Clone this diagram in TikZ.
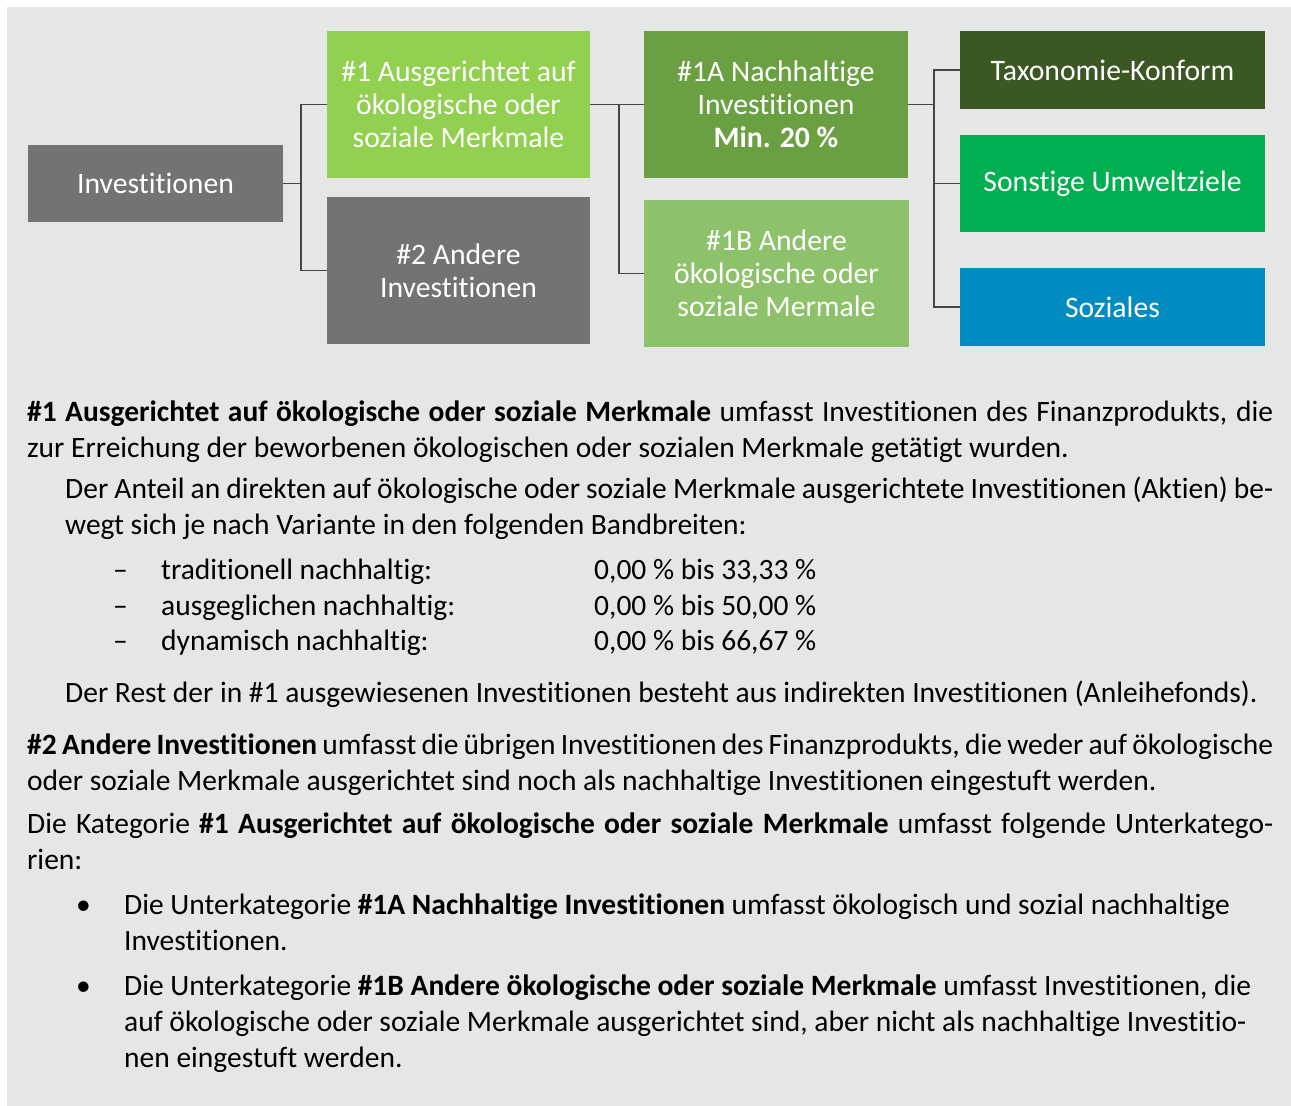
\documentclass[tikz,border=0pt]{standalone}
\usepackage{fontspec}
\setmainfont{Carlito}[Ligatures=CommonOff]

\definecolor{bggray}{HTML}{E7E6E6}
\definecolor{boxgray}{HTML}{737373}
\definecolor{lightgreen}{HTML}{92D050}
\definecolor{midgreen}{HTML}{6A9F42}
\definecolor{palegreen}{HTML}{8DC26B}
\definecolor{darkgreen}{HTML}{3A5724}
\definecolor{brightgreen}{HTML}{00AF50}
\definecolor{sozblue}{HTML}{008CC1}
\definecolor{linegray}{HTML}{454545}

\tikzset{
  kasten/.style={fill=#1, text=white, align=center, inner sep=0pt,
    font=\fontsize{29.7}{33}\selectfont},
  linie/.style={draw=linegray, line width=1.3pt},
  absatz/.style={anchor=base west, inner sep=0pt, align=justify,
    font=\fontsize{29.5}{36}\selectfont},
  zeile/.style={anchor=base west, inner sep=0pt,
    font=\fontsize{29.5}{36}\selectfont},
}

\begin{document}
\begin{tikzpicture}[x=1pt,y=-1pt]
    \useasboundingbox (0,0) rectangle (1291,1106);
    \fill[white] (0,0) rectangle (1291,1106);
    \fill[bggray] (7,7) rectangle (1291,1106);
    %
    \node[kasten=boxgray, minimum width=255pt, minimum height=77pt] (Inv) at (155.5,183.5) {Investitionen};
    \node[kasten=lightgreen, minimum width=263pt, minimum height=147pt] (Ausg) at (458.5,104.5) {\#1 Ausgerichtet auf\\ökologische oder\\soziale Merkmale};
    \node[kasten=boxgray, minimum width=263pt, minimum height=147pt] (Andere) at (458.5,270.5) {\#2 Andere\\Investitionen};
    \node[kasten=midgreen, minimum width=264pt, minimum height=147pt] (Nachh) at (776,104.5) {\#1A Nachhaltige\\Investitionen\\\textbf{Min. 20~\%}};
    \node[kasten=palegreen, minimum width=265pt, minimum height=147pt] (AndMerk) at (776.5,273.5) {\#1B Andere\\ökologische oder\\soziale Mermale};
    \node[kasten=darkgreen, minimum width=305pt, minimum height=78pt] (Tax) at (1112.5,70) {Taxonomie-Konform};
    \node[kasten=brightgreen, minimum width=305pt, minimum height=97pt] (Sonst) at (1112.5,183.5) {Sonstige Umweltziele};
    \node[kasten=sozblue, minimum width=305pt, minimum height=78pt] (Soz) at (1112.5,307) {Soziales};
    %
    \coordinate (gabelA) at (301,183.5);
    \coordinate (gabelB) at (619,104.5);
    \coordinate (gabelC) at (934,104.5);
    %
    \draw[linie] (Inv.east) -- (gabelA);
    \draw[linie] (gabelA) |- (Ausg.west);
    \draw[linie] (gabelA) |- (Andere.west);
    %
    \draw[linie] (Ausg.east) -- (Nachh.west);
    \draw[linie] (gabelB) |- (AndMerk.west);
    %
    \draw[linie] (Nachh.east) -- (gabelC);
    \draw[linie] (gabelC) |- (Tax.west);
    \draw[linie] (gabelC) |- (Sonst.west);
    \draw[linie] (gabelC) |- (Soz.west);
    %
    \node[absatz, text width=1246pt] (TextA) at (27,421) {\textbf{\#1 Ausgerichtet auf ökologische oder soziale Merkmale} umfasst Investitionen des Finanzprodukts, die\linebreak zur Erreichung der beworbenen ökologischen oder sozialen Merkmale getätigt wurden.};
    \node[absatz, text width=1208pt] (TextB) at (65,498) {Der Anteil an direkten auf ökologische oder soziale Merkmale ausgerichtete Investitionen (Aktien) be-\linebreak wegt sich je nach Variante in den folgenden Bandbreiten:};
    %
    \node[zeile] (StrichA) at (113,579) {–};
    \node[zeile] (VarA) at (161,579) {traditionell nachhaltig:};
    \node[zeile] (WertA) at (594,579) {0,00~\% bis 33,33~\%};
    \node[zeile] (StrichB) at (113,615) {–};
    \node[zeile] (VarB) at (161,615) {ausgeglichen nachhaltig:};
    \node[zeile] (WertB) at (594,615) {0,00~\% bis 50,00~\%};
    \node[zeile] (StrichC) at (113,650) {–};
    \node[zeile] (VarC) at (161,650) {dynamisch nachhaltig:};
    \node[zeile] (WertC) at (594,650) {0,00~\% bis 66,67~\%};
    %
    \node[zeile] (TextC) at (65,702) {Der Rest der in \#1 ausgewiesenen Investitionen besteht aus indirekten Investitionen (Anleihefonds).};
    \node[absatz, text width=1246pt] (TextD) at (27,754) {\textbf{\#2 Andere Investitionen} umfasst die übrigen Investitionen des Finanzprodukts, die weder auf ökologische\linebreak oder soziale Merkmale ausgerichtet sind noch als nachhaltige Investitionen eingestuft werden.};
    \node[absatz, text width=1246pt] (TextE) at (27,833) {Die Kategorie \textbf{\#1 Ausgerichtet auf ökologische oder soziale Merkmale} umfasst folgende Unterkatego-\linebreak rien:};
    %
    \node[zeile] (PunktA) at (76,914) {•};
    \node[absatz, align=flush left, text width=1150pt] (TextF) at (124,914) {Die Unterkategorie \textbf{\#1A Nachhaltige Investitionen} umfasst ökologisch und sozial nachhaltige\\Investitionen.};
    \node[zeile] (PunktB) at (76,995) {•};
    \node[absatz, align=flush left, text width=1150pt] (TextG) at (124,995) {Die Unterkategorie \textbf{\#1B Andere ökologische oder soziale Merkmale} umfasst Investitionen, die\\auf ökologische oder soziale Merkmale ausgerichtet sind, aber nicht als nachhaltige Investitio-\\nen eingestuft werden.};
\end{tikzpicture}
\end{document}
